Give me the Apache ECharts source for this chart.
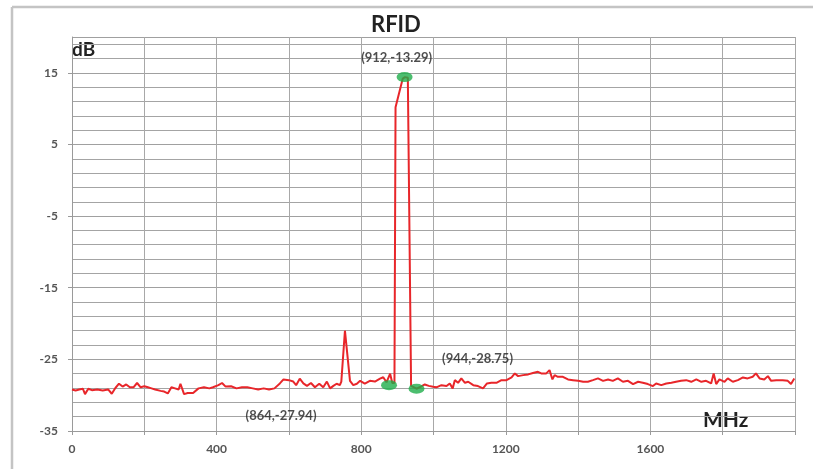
<!DOCTYPE html>
<html>
<head>
<meta charset="utf-8">
<title>RFID</title>
<script src="https://cdn.jsdelivr.net/npm/echarts@6/dist/echarts.min.js"></script>
<style>
	html, body { margin: 0; padding: 0; background: #fff; }
	#chart { width: 813px; height: 469px; }
</style>
</head>
<body>
<div id="chart"></div>
<script>
// spectrum trace, MHz / dB
var freqMHz = [0, 10, 20, 30, 36, 45, 55, 70, 85, 100, 110, 120, 130, 140, 150, 160, 170, 180, 190, 200,
	210, 220, 230, 245, 255, 265, 275, 285, 295, 300, 310, 320, 335, 350, 365, 380, 390, 405, 415, 425,
	440, 455, 470, 485, 500, 515, 530, 545, 560, 575, 585, 600, 612, 620, 630, 640, 650, 661, 672, 684,
	695, 705, 714, 723, 732, 741, 745, 755, 769, 778, 788, 797, 810, 824, 838, 852, 861, 870, 880, 886,
	892, 895, 915, 921, 929, 938, 953, 965, 976, 987, 999, 1008, 1022, 1036, 1045, 1053, 1059, 1068, 1077, 1087,
	1096, 1110, 1123, 1137, 1148, 1160, 1174, 1188, 1202, 1216, 1225, 1234, 1248, 1262, 1275, 1289, 1298, 1312, 1321, 1329,
	1335, 1344, 1358, 1372, 1386, 1400, 1414, 1427, 1441, 1455, 1469, 1483, 1496, 1510, 1524, 1538, 1552, 1566, 1579, 1593,
	1607, 1616, 1630, 1644, 1658, 1671, 1685, 1699, 1713, 1727, 1741, 1754, 1768, 1775, 1782, 1791, 1805, 1814, 1828, 1842,
	1856, 1869, 1883, 1892, 1902, 1915, 1925, 1934, 1948, 1966, 1980, 1989, 1998];
var levelDb = [-29.2, -29.35, -29.2, -29.1, -29.85, -29.1, -29.3, -29.2, -29.35, -29.2, -29.8, -29.0, -28.4, -28.8, -28.5, -28.9, -28.9, -28.3, -28.9, -28.75,
	-28.9, -29.05, -29.2, -29.4, -29.5, -29.75, -28.9, -29.05, -29.2, -28.4, -29.85, -29.7, -29.7, -29.05, -28.9, -29.05, -28.9, -28.6, -28.3, -28.8,
	-28.75, -29.05, -28.9, -28.9, -29.05, -29.2, -29.05, -29.2, -29.05, -28.36, -27.8, -27.9, -28.1, -28.6, -27.7, -28.36, -28.7, -28.3, -28.9, -28.4,
	-28.9, -28.1, -29.05, -28.7, -28.4, -28.6, -28.1, -21.0, -28.0, -28.6, -28.4, -28.0, -28.4, -28.0, -28.1, -27.7, -27.5, -28.2, -27.0, -28.3,
	-28.3, 10.2, 14.2, 14.4, 14.3, -28.7, -29.1, -28.8, -28.5, -28.7, -28.83, -28.9, -28.6, -28.73, -28.36, -29.05, -27.9, -28.27, -27.66, -28.27,
	-28.13, -28.6, -28.73, -29.05, -28.36, -28.27, -28.27, -27.9, -27.9, -27.52, -26.96, -27.34, -27.2, -27.1, -26.9, -26.74, -26.96, -26.96, -26.5, -27.8,
	-27.2, -27.43, -27.43, -27.8, -27.9, -28.0, -28.13, -28.13, -27.9, -27.66, -28.0, -27.8, -28.0, -27.66, -28.13, -28.0, -28.45, -28.13, -28.27, -28.45,
	-28.73, -28.36, -28.6, -28.36, -28.27, -28.13, -28.0, -27.9, -28.13, -27.8, -28.13, -28.0, -28.36, -26.96, -28.45, -27.8, -28.13, -27.66, -28.13, -27.9,
	-27.52, -27.66, -27.43, -26.96, -27.66, -27.8, -27.34, -28.0, -27.9, -27.9, -28.0, -28.45, -27.66];

// green markers and their notes
var markerFreq = [877, 920, 953];
var markerLevel = [-28.6, 14.4, -29.1];
var markerNotes = ['(864,-27.94)', '(912,-13.29)', '(944,-28.75)'];

// axis labels
var xTickLabels = [0, 400, 800, 1200, 1600];
var yTickLabels = [-35, -25, -15, -5, 5, 15];

// label placement relative to each marker (px)
var noteOffsets = [[-108, 31], [-8, -19], [61, -30]];

var font = 'Lato, "Open Sans", sans-serif';

var lineData = [];
for (var i = 0; i < freqMHz.length; i++) {
	lineData.push([freqMHz[i], levelDb[i]]);
}

var markerData = [];
for (var i = 0; i < markerFreq.length; i++) {
	markerData.push({
		value: [markerFreq[i], markerLevel[i]],
		label: {
			show: true,
			position: 'inside',
			offset: noteOffsets[i],
			formatter: markerNotes[i],
			color: '#222',
			fontSize: 13,
			fontWeight: 'bold',
			fontFamily: font
		}
	});
}

var myChart = echarts.init(document.getElementById('chart'), null, { renderer: 'canvas' });

var option = {
	animation: false,
	backgroundColor: '#fff',
	grid: {
		left: 72,
		right: 18,
		top: 37,
		bottom: 38
	},
	xAxis: {
		type: 'value',
		min: 0,
		max: 2000,
		interval: 200,
		axisLine: { onZero: false, lineStyle: { color: '#9a9a9a', width: 1 } },
		axisTick: { show: true, length: 4, lineStyle: { color: '#9a9a9a' } },
		axisLabel: {
			margin: 12,
			color: '#555',
			fontSize: 12,
			fontWeight: 'bold',
			fontFamily: font,
			formatter: function(v) {
				return xTickLabels.indexOf(v) >= 0 ? String(v) : '';
			}
		},
		splitLine: { show: true, lineStyle: { color: '#a8a8a8', width: 1 } }
	},
	yAxis: {
		type: 'value',
		min: -35,
		max: 20,
		interval: 10,
		axisLine: { show: true, lineStyle: { color: '#9a9a9a' } },
		axisTick: { show: true, length: 4, lineStyle: { color: '#9a9a9a' } },
		minorTick: { show: false, splitNumber: 5 },
		axisLabel: {
			margin: 14,
			color: '#555',
			fontSize: 12,
			fontWeight: 'bold',
			fontFamily: font,
			showMaxLabel: false,
			formatter: function(v) {
				return yTickLabels.indexOf(v) >= 0 ? String(v) : '';
			}
		},
		splitLine: { show: true, lineStyle: { color: '#a0a0a0', width: 1 } },
		minorSplitLine: { show: true, lineStyle: { color: '#a4a4a4', width: 1 } }
	},
	graphic: [{
		type: 'line',
		shape: { x1: 12, y1: 7, x2: 12, y2: 469 },
		style: { stroke: '#c4c4c4', lineWidth: 2.5 }
	}, {
		type: 'line',
		shape: { x1: 12, y1: 7, x2: 813, y2: 7 },
		style: { stroke: '#c4c4c4', lineWidth: 2.5 }
	}, {
		type: 'text',
		left: 371,
		top: 14,
		style: { text: 'RFID', fill: '#222', font: 'bold 22px ' + font }
	}, {
		type: 'text',
		left: 72,
		top: 40,
		style: { text: 'dB', fill: '#222', font: 'bold 19px ' + font }
	}, {
		type: 'text',
		left: 703,
		top: 410,
		style: { text: 'MHz', fill: '#222', font: 'bold 21px ' + font }
	}],
	series: [{
		name: 'spectrum',
		type: 'line',
		data: lineData,
		showSymbol: false,
		symbol: 'none',
		silent: true,
		lineStyle: { color: '#e8262a', width: 2 },
		z: 2
	}, {
		name: 'markers',
		type: 'scatter',
		data: markerData,
		symbol: 'circle',
		symbolSize: [16, 10],
		silent: true,
		itemStyle: { color: '#1fae4b' },
		z: 3
	}]
};

myChart.setOption(option);
</script>
</body>
</html>
